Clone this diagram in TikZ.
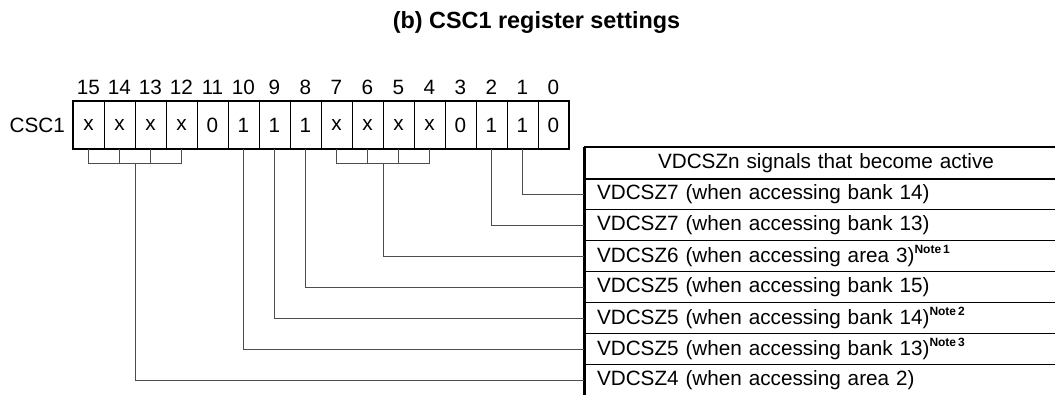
\documentclass[tikz,border=0pt]{standalone}
\usepackage{fontspec}
\setmainfont{Liberation Sans}
\usetikzlibrary{calc}
\newcommand\mynote[1]{\raisebox{0.42em}{\fontsize{12}{13}\selectfont\bfseries Note\,#1}}
\begin{document}
\begin{tikzpicture}[x=1pt,y=-1pt,
  txt/.style={font=\fontsize{20.7}{24}\selectfont},
  cell/.style={draw, line width=0.8pt, minimum width=31pt, minimum height=48pt, inner sep=0pt, txt},
  bitno/.style={inner sep=0pt, txt},
  row/.style={draw, line width=1.3pt, minimum width=482pt, minimum height=31pt, text width=458pt, inner xsep=12pt, inner ysep=0pt, align=left, txt},
  hdrrow/.style={row, align=center},
  conn/.style={draw, line width=1pt, black!70},
  thick border/.style={line width=2pt}]
\useasboundingbox (0,0) rectangle (1055,394);
\clip (0,0) rectangle (1055,394);
% title
\node[font=\bfseries\fontsize{23.4}{28}\selectfont] (title) at (536.5,22) {(b) CSC1 register settings};
% register
\node[txt, anchor=east, inner sep=0pt] (lbl) at (65,125) {CSC1};
\foreach \b/\v in {15/x,14/x,13/x,12/x,11/0,10/1,9/1,8/1,7/x,6/x,5/x,4/x,3/0,2/1,1/1,0/0}{
  \pgfmathsetmacro\xx{88.5+31*(15-\b)}
  \node[cell] (c\b) at (\xx,125) {\v};
  \node[bitno] (n\b) at (\xx,87) {\b};
}
\draw[thick border] (c15.north west) rectangle (c0.south east);
% table
\node[hdrrow] (hdr) at (826,163) {VDCSZn signals that become active};
\node[row] (r1) at (826,194) {VDCSZ7 (when accessing bank 14)};
\node[row] (r2) at (826,225) {VDCSZ7 (when accessing bank 13)};
\node[row] (r3) at (826,256) {VDCSZ6 (when accessing area 3)\mynote{1}};
\node[row] (r4) at (826,287) {VDCSZ5 (when accessing bank 15)};
\node[row] (r5) at (826,318) {VDCSZ5 (when accessing bank 14)\mynote{2}};
\node[row] (r6) at (826,349) {VDCSZ5 (when accessing bank 13)\mynote{3}};
\node[row] (r7) at (826,380) {VDCSZ4 (when accessing area 2)};
\draw[thick border] (hdr.north west) -- (hdr.north east);
\draw[thick border] (hdr.south west) -- (hdr.south east);
\draw[line width=2.2pt] (hdr.north west) -- (r7.south west);
% brackets
\coordinate (ba) at ($(c14.south east)+(0,14)$);
\coordinate (bb) at ($(c6.south east)+(0,14)$);
\draw[conn] (c15.south) -- (c15.south |- ba) -- (c12.south |- ba) -- (c12.south);
\draw[conn] (c14.south) -- (c14.south |- ba);
\draw[conn] (c13.south) -- (c13.south |- ba);
\draw[conn] (c7.south) -- (c7.south |- bb) -- (c4.south |- bb) -- (c4.south);
\draw[conn] (c6.south) -- (c6.south |- bb);
\draw[conn] (c5.south) -- (c5.south |- bb);
% connectors
\draw[conn] (c1.south) |- (r1.west);
\draw[conn] (c2.south) |- (r2.west);
\draw[conn] (bb) |- (r3.west);
\draw[conn] (c8.south) |- (r4.west);
\draw[conn] (c9.south) |- (r5.west);
\draw[conn] (c10.south) |- (r6.west);
\draw[conn] (ba) |- (r7.west);
\end{tikzpicture}
\end{document}
